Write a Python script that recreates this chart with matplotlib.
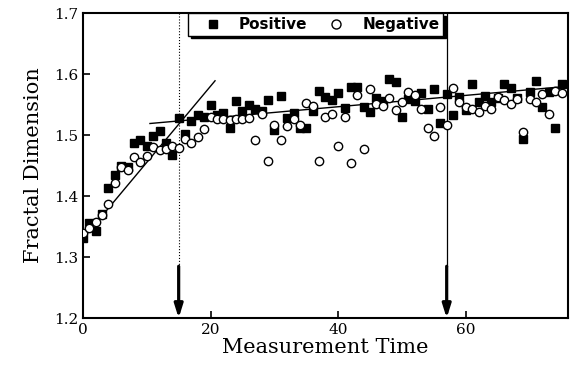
import numpy as np
import matplotlib
matplotlib.use("Agg")
import matplotlib.pyplot as plt
from matplotlib.lines import Line2D

time = list(range(76))
positive = [1.331, 1.356, 1.343, 1.370, 1.413, 1.434, 1.450, 1.447, 1.487, 1.492,
            1.482, 1.498, 1.507, 1.487, 1.467, 1.528, 1.502, 1.523, 1.533, 1.530,
            1.549, 1.533, 1.536, 1.512, 1.556, 1.540, 1.549, 1.543, 1.540, 1.557,
            1.508, 1.564, 1.528, 1.536, 1.511, 1.511, 1.540, 1.572, 1.562, 1.557,
            1.569, 1.544, 1.579, 1.579, 1.546, 1.538, 1.561, 1.556, 1.592, 1.587,
            1.530, 1.559, 1.556, 1.569, 1.543, 1.575, 1.520, 1.567, 1.533, 1.562,
            1.541, 1.584, 1.555, 1.564, 1.555, 1.560, 1.584, 1.577, 1.560, 1.494,
            1.570, 1.588, 1.546, 1.570, 1.511, 1.584]
negative = [1.339, 1.347, 1.357, 1.369, 1.387, 1.421, 1.448, 1.443, 1.464, 1.456,
            1.466, 1.480, 1.475, 1.477, 1.482, 1.479, 1.493, 1.487, 1.497, 1.510,
            1.530, 1.526, 1.526, 1.524, 1.526, 1.526, 1.528, 1.492, 1.534, 1.458,
            1.516, 1.492, 1.515, 1.527, 1.516, 1.552, 1.548, 1.458, 1.529, 1.534,
            1.482, 1.530, 1.454, 1.566, 1.477, 1.575, 1.551, 1.548, 1.561, 1.541,
            1.554, 1.571, 1.566, 1.543, 1.511, 1.498, 1.546, 1.516, 1.577, 1.554,
            1.546, 1.543, 1.538, 1.548, 1.543, 1.562, 1.557, 1.551, 1.559, 1.505,
            1.559, 1.554, 1.567, 1.534, 1.572, 1.569]

# fitted lines (endpoints)
fit1_x = [0.5, 20.7]
fit1_y = [1.3365, 1.589]
fit2_x = [10.5, 76]
fit2_y = [1.519, 1.580]

marks = [15, 57]
x_ticks = [0, 20, 40, 60]
y_ticks = [1.2, 1.3, 1.4, 1.5, 1.6, 1.7]

fig = plt.figure(figsize=(5.76, 3.73), dpi=100)
ax = fig.add_axes([0.144, 0.147, 0.842, 0.818])

ax.plot(time, positive, linestyle='none', marker='s', markersize=5.5,
        markerfacecolor='black', markeredgecolor='black', zorder=3)
ax.plot(time, negative, linestyle='none', marker='o', markersize=6,
        markerfacecolor='white', markeredgecolor='black', markeredgewidth=1.0, zorder=4)

ax.plot(fit1_x, fit1_y, color='black', lw=1.0, zorder=2)
ax.plot(fit2_x, fit2_y, color='black', lw=1.0, zorder=2)

# vertical markers
ax.plot([marks[0], marks[0]], [1.7, 1.285], color='black', lw=0.8, linestyle=':', zorder=1)
ax.plot([marks[1], marks[1]], [1.7, 1.285], color='black', lw=0.9, zorder=1)
for m in marks:
    ax.annotate('', xy=(m, 1.2), xytext=(m, 1.285),
                arrowprops=dict(arrowstyle='-|>,head_length=0.8,head_width=0.25',
                                color='black', lw=2.3, shrinkA=0, shrinkB=0),
                zorder=5)

ax.set_xlim(0, 76)
ax.set_ylim(1.2, 1.7)
ax.set_xticks(x_ticks)
ax.set_yticks(y_ticks)
ax.set_yticklabels([f"{v:.1f}" for v in y_ticks])
ax.tick_params(direction='in', length=5, width=1.2, labelsize=11)
for lab in ax.get_xticklabels() + ax.get_yticklabels():
    lab.set_fontfamily('DejaVu Serif')
for sp in ax.spines.values():
    sp.set_linewidth(1.5)

ax.set_xlabel('Measurement Time', fontfamily='DejaVu Serif', fontsize=15, labelpad=1)
ax.set_ylabel('Fractal Dimension', fontfamily='DejaVu Serif', fontsize=15, labelpad=8)

handles = [Line2D([], [], linestyle='none', marker='s', markersize=6,
                  markerfacecolor='black', markeredgecolor='black'),
           Line2D([], [], linestyle='none', marker='o', markersize=6.5,
                  markerfacecolor='white', markeredgecolor='black')]
leg = ax.legend(handles, ['Positive', 'Negative'], ncol=2, loc='upper left',
                bbox_to_anchor=(0.2165, 1.0),
                borderaxespad=0, fancybox=False, frameon=True, framealpha=1,
                edgecolor='black', handletextpad=0.33, columnspacing=0.52,
                handlelength=2.75, borderpad=0.25,
                shadow={'facecolor': 'black', 'edgecolor': 'black', 'alpha': 1},
                prop={'family': 'DejaVu Sans', 'weight': 'bold', 'size': 11})
leg.get_frame().set_linewidth(1.0)
leg.set_zorder(10)

fig.savefig('out.png', dpi=100)
